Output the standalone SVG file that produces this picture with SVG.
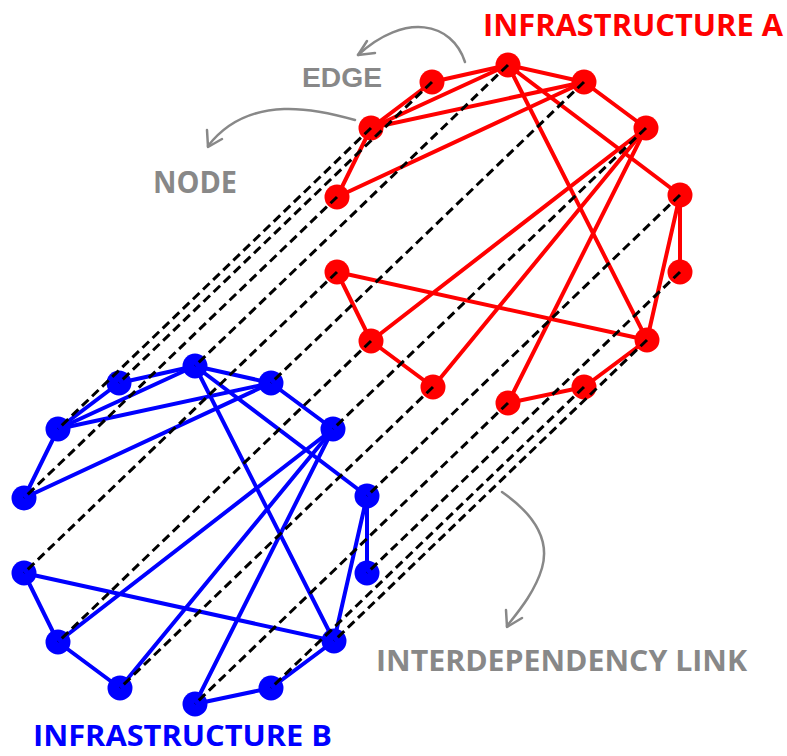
<svg xmlns="http://www.w3.org/2000/svg" width="787" height="756" viewBox="0 0 787 756">
<style>
.ea{stroke:#ff0000;stroke-width:4;fill:none;stroke-linecap:round}
.eb{stroke:#0000ff;stroke-width:4;fill:none;stroke-linecap:round}
.na{fill:#ff0000}
.nb{fill:#0000ff}
.lk{stroke:#000;stroke-width:3;stroke-dasharray:9 5;fill:none}
.ar{stroke:#888;stroke-width:2.5;fill:none;stroke-linecap:round;stroke-linejoin:round}
.lb{font-family:"Open Sans","Liberation Sans",sans-serif;font-weight:bold}
</style>
<rect width="787" height="756" fill="#fff"/>
<g id="edges-a" class="ea">
<line x1="432" y1="82" x2="508" y2="65"/>
<line x1="371" y1="128" x2="432" y2="82"/>
<line x1="371" y1="128" x2="508" y2="65"/>
<line x1="371" y1="128" x2="584" y2="82"/>
<line x1="337" y1="197" x2="371" y2="128"/>
<line x1="337" y1="197" x2="584" y2="82"/>
<line x1="508" y1="65" x2="584" y2="82"/>
<line x1="508" y1="65" x2="680" y2="195"/>
<line x1="508" y1="65" x2="647" y2="340"/>
<line x1="584" y1="82" x2="646" y2="128"/>
<line x1="646" y1="128" x2="371" y2="341"/>
<line x1="646" y1="128" x2="433" y2="387"/>
<line x1="646" y1="128" x2="508" y2="403"/>
<line x1="680" y1="195" x2="680" y2="272"/>
<line x1="680" y1="195" x2="647" y2="340"/>
<line x1="337" y1="272" x2="371" y2="341"/>
<line x1="337" y1="272" x2="647" y2="340"/>
<line x1="371" y1="341" x2="433" y2="387"/>
<line x1="508" y1="403" x2="584" y2="387"/>
<line x1="584" y1="387" x2="647" y2="340"/>
</g>
<g id="edges-b" class="eb">
<line x1="119" y1="383" x2="195" y2="366"/>
<line x1="58" y1="429" x2="119" y2="383"/>
<line x1="58" y1="429" x2="195" y2="366"/>
<line x1="58" y1="429" x2="271" y2="383"/>
<line x1="24" y1="498" x2="58" y2="429"/>
<line x1="24" y1="498" x2="271" y2="383"/>
<line x1="195" y1="366" x2="271" y2="383"/>
<line x1="195" y1="366" x2="367" y2="496"/>
<line x1="195" y1="366" x2="334" y2="641"/>
<line x1="271" y1="383" x2="333" y2="429"/>
<line x1="333" y1="429" x2="58" y2="642"/>
<line x1="333" y1="429" x2="120" y2="688"/>
<line x1="333" y1="429" x2="195" y2="704"/>
<line x1="367" y1="496" x2="367" y2="573"/>
<line x1="367" y1="496" x2="334" y2="641"/>
<line x1="24" y1="573" x2="58" y2="642"/>
<line x1="24" y1="573" x2="334" y2="641"/>
<line x1="58" y1="642" x2="120" y2="688"/>
<line x1="195" y1="704" x2="271" y2="688"/>
<line x1="271" y1="688" x2="334" y2="641"/>
</g>
<g id="node-a0" class="na"><circle cx="508" cy="65" r="12.5"/></g>
<g id="node-a1" class="na"><circle cx="584" cy="82" r="12.5"/></g>
<g id="node-a2" class="na"><circle cx="646" cy="128" r="12.5"/></g>
<g id="node-a3" class="na"><circle cx="680" cy="195" r="12.5"/></g>
<g id="node-a4" class="na"><circle cx="680" cy="272" r="12.5"/></g>
<g id="node-a5" class="na"><circle cx="647" cy="340" r="12.5"/></g>
<g id="node-a6" class="na"><circle cx="584" cy="387" r="12.5"/></g>
<g id="node-a7" class="na"><circle cx="508" cy="403" r="12.5"/></g>
<g id="node-a8" class="na"><circle cx="433" cy="387" r="12.5"/></g>
<g id="node-a9" class="na"><circle cx="371" cy="341" r="12.5"/></g>
<g id="node-a10" class="na"><circle cx="337" cy="272" r="12.5"/></g>
<g id="node-a11" class="na"><circle cx="337" cy="197" r="12.5"/></g>
<g id="node-a12" class="na"><circle cx="371" cy="128" r="12.5"/></g>
<g id="node-a13" class="na"><circle cx="432" cy="82" r="12.5"/></g>
<g id="node-b0" class="nb"><circle cx="195" cy="366" r="12.5"/></g>
<g id="node-b1" class="nb"><circle cx="271" cy="383" r="12.5"/></g>
<g id="node-b2" class="nb"><circle cx="333" cy="429" r="12.5"/></g>
<g id="node-b3" class="nb"><circle cx="367" cy="496" r="12.5"/></g>
<g id="node-b4" class="nb"><circle cx="367" cy="573" r="12.5"/></g>
<g id="node-b5" class="nb"><circle cx="334" cy="641" r="12.5"/></g>
<g id="node-b6" class="nb"><circle cx="271" cy="688" r="12.5"/></g>
<g id="node-b7" class="nb"><circle cx="195" cy="704" r="12.5"/></g>
<g id="node-b8" class="nb"><circle cx="120" cy="688" r="12.5"/></g>
<g id="node-b9" class="nb"><circle cx="58" cy="642" r="12.5"/></g>
<g id="node-b10" class="nb"><circle cx="24" cy="573" r="12.5"/></g>
<g id="node-b11" class="nb"><circle cx="24" cy="498" r="12.5"/></g>
<g id="node-b12" class="nb"><circle cx="58" cy="429" r="12.5"/></g>
<g id="node-b13" class="nb"><circle cx="119" cy="383" r="12.5"/></g>
<g id="links" class="lk">
<line x1="508" y1="65" x2="195" y2="366"/>
<line x1="584" y1="82" x2="271" y2="383"/>
<line x1="646" y1="128" x2="333" y2="429"/>
<line x1="680" y1="195" x2="367" y2="496"/>
<line x1="680" y1="272" x2="367" y2="573"/>
<line x1="647" y1="340" x2="334" y2="641"/>
<line x1="584" y1="387" x2="271" y2="688"/>
<line x1="508" y1="403" x2="195" y2="704"/>
<line x1="433" y1="387" x2="120" y2="688"/>
<line x1="371" y1="341" x2="58" y2="642"/>
<line x1="337" y1="272" x2="24" y2="573"/>
<line x1="337" y1="197" x2="24" y2="498"/>
<line x1="371" y1="128" x2="58" y2="429"/>
<line x1="432" y1="82" x2="119" y2="383"/>
</g>
<g id="annotations" class="ar">
<path d="M465,62 C452,22 405,12 358,55"/>
<polyline points="367,41 358,55 375,53"/>
<path d="M355,120 C320,110 250,92 208,146"/>
<polyline points="207,130 208,147 222,139"/>
<path d="M502,492 C535,515 550,540 542,568 C535,592 518,612 507,626"/>
<polyline points="506,610 507,627 522,618"/>
</g>
<g id="labels" class="lb">
<text x="483" y="36" font-size="31" fill="#ff0000" textLength="300" lengthAdjust="spacingAndGlyphs">INFRASTRUCTURE A</text>
<text x="33" y="746" font-size="29" fill="#0000ff" textLength="299" lengthAdjust="spacingAndGlyphs">INFRASTRUCTURE B</text>
<text x="376" y="671" font-size="29" fill="#888" textLength="371" lengthAdjust="spacingAndGlyphs">INTERDEPENDENCY LINK</text>
<text x="153" y="193" font-size="30" fill="#888" textLength="84" lengthAdjust="spacingAndGlyphs">NODE</text>
<text x="302" y="87" font-size="27" fill="#888" font-family="Liberation Sans,sans-serif" textLength="80" lengthAdjust="spacingAndGlyphs">EDGE</text>
</g>
</svg>
